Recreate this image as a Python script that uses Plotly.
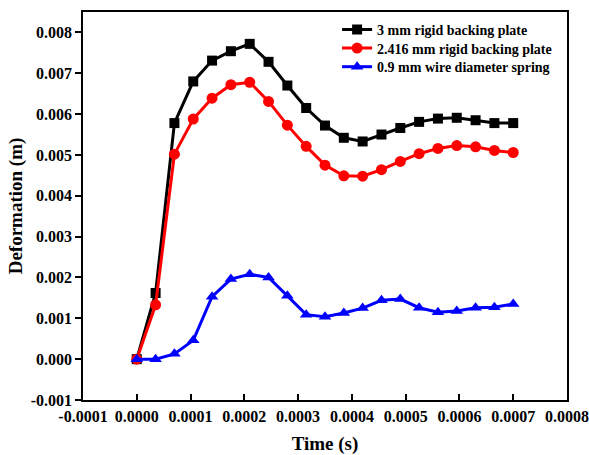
import plotly.graph_objects as go

time_s = [0, 0.000035, 0.00007, 0.000105, 0.00014, 0.000175, 0.00021, 0.000245, 0.00028,
          0.000315, 0.00035, 0.000385, 0.00042, 0.000455, 0.00049, 0.000525, 0.00056,
          0.000595, 0.00063, 0.000665, 0.0007]
plate_3mm = [0, 0.00162, 0.00578, 0.00680, 0.00731, 0.00754, 0.00772, 0.00728, 0.00670,
             0.00615, 0.00572, 0.00542, 0.00533, 0.00550, 0.00566, 0.00581, 0.00589,
             0.00591, 0.00585, 0.00578, 0.00578]
plate_2416mm = [0, 0.00133, 0.00502, 0.00588, 0.00639, 0.00672, 0.00678, 0.00631, 0.00573,
                0.00521, 0.00475, 0.00449, 0.00448, 0.00464, 0.00484, 0.00503, 0.00516,
                0.00523, 0.00520, 0.00511, 0.00506]
spring_09mm = [0, 0.0, 0.00013, 0.00046, 0.00153, 0.00196, 0.00208, 0.00200, 0.00155,
               0.00109, 0.00104, 0.00113, 0.00125, 0.00144, 0.00147, 0.00126, 0.00115,
               0.00118, 0.00126, 0.00127, 0.00135]

x_tickvals = [-0.0001, 0, 0.0001, 0.0002, 0.0003, 0.0004, 0.0005, 0.0006, 0.0007, 0.0008]
x_ticktext = ["-0.0001", "0.0000", "0.0001", "0.0002", "0.0003", "0.0004", "0.0005",
              "0.0006", "0.0007", "0.0008"]
y_tickvals = [-0.001, 0, 0.001, 0.002, 0.003, 0.004, 0.005, 0.006, 0.007, 0.008]
y_ticktext = ["-0.001", "0.000", "0.001", "0.002", "0.003", "0.004", "0.005", "0.006",
              "0.007", "0.008"]

font_family = "Liberation Serif, Times New Roman, serif"

fig = go.Figure()
fig.add_trace(go.Scatter(x=time_s, y=plate_3mm, mode="lines+markers",
                         name="3 mm rigid backing plate", legend="legend", showlegend=True,
                         line=dict(color="black", width=3),
                         marker=dict(symbol="square", size=10, color="black")))
fig.add_trace(go.Scatter(x=time_s, y=plate_2416mm, mode="lines+markers",
                         name="2.416 mm rigid backing plate", legend="legend2", showlegend=True,
                         line=dict(color="red", width=3),
                         marker=dict(symbol="circle", size=11, color="red")))
fig.add_trace(go.Scatter(x=time_s, y=spring_09mm, mode="lines+markers",
                         name="0.9 mm wire diameter spring", legend="legend3", showlegend=True,
                         line=dict(color="blue", width=3),
                         marker=dict(symbol="triangle-up", size=11, color="blue")))

axis_common = dict(showline=True, linecolor="black", linewidth=1.5, mirror=True,
                   showgrid=False, zeroline=False, ticklen=6, tickwidth=1.5,
                   tickcolor="black", automargin=False,
                   tickfont=dict(family=font_family, size=16, color="black", weight="bold"))

fig.update_xaxes(range=[-0.0001, 0.0008], tickvals=x_tickvals, ticktext=x_ticktext,
                 ticks="inside", ticklabelstandoff=1,
                 title=dict(text="<b>Time (s)</b>", font=dict(family=font_family, size=19, color="black"),
                            standoff=23),
                 **axis_common)
fig.update_yaxes(range=[-0.001, 0.0085], tickvals=y_tickvals, ticktext=y_ticktext,
                 ticks="outside",
                 title=dict(text="<b>Deformation (m)</b>", font=dict(family=font_family, size=19, color="black"),
                            standoff=3),
                 **axis_common)

legend_style = dict(xanchor="left", yanchor="middle", bgcolor="rgba(0,0,0,0)",
                    itemwidth=30, font=dict(family=font_family, size=14, color="black", weight="bold"))

fig.update_layout(
    width=589, height=455,
    margin=dict(l=83, r=22, t=12, b=55),
    paper_bgcolor="white", plot_bgcolor="white",
    showlegend=True,
    font=dict(family=font_family, color="black"),
    legend=dict(x=0.525, y=0.954, **legend_style),
    legend2=dict(x=0.525, y=0.906, **legend_style),
    legend3=dict(x=0.525, y=0.858, **legend_style),
)

fig.write_html("out.html")
